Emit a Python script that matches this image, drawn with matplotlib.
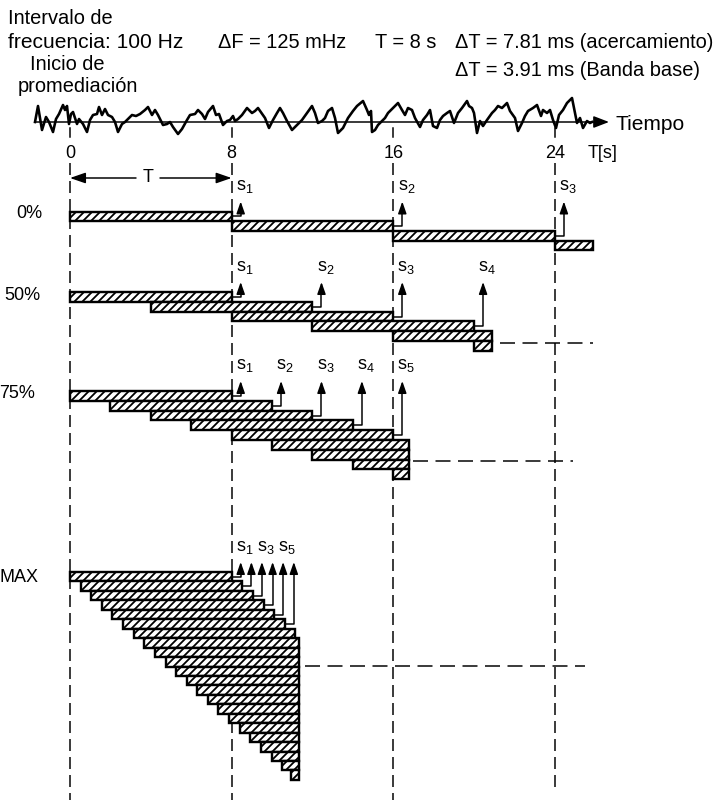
import matplotlib.pyplot as plt
import numpy as np

plt.rcParams['font.family'] = ['Liberation Sans', 'DejaVu Sans']
plt.rcParams['mathtext.fontset'] = 'custom'
plt.rcParams['mathtext.rm'] = 'Liberation Sans'
plt.rcParams['mathtext.it'] = 'Liberation Sans'
plt.rcParams['hatch.linewidth'] = 1.8

# --- data -------------------------------------------------------------
row_labels = ['0%', '50%', '75%', 'MAX']
record_len = 8.0   # T = 8 s
# start time of every record (s) in each overlap row
rec_starts = [
    [0, 8, 16, 24],
    [0, 4, 8, 12, 16, 20],
    [0, 2, 4, 6, 8, 10, 12, 14, 16],
    [0, 0.53, 1.05, 1.58, 2.1, 2.63, 3.15, 3.68, 4.2, 4.73, 5.25,
     5.78, 6.3, 6.83, 7.35, 7.88, 8.4, 8.93, 9.45, 9.98, 10.5, 10.95],
]
t_stop = [25.9, 20.9, 16.8, 11.35]     # where each row is cut off
spec_labels = [
    ['1', '2', '3'],
    ['1', '2', '3', '4'],
    ['1', '2', '3', '4', '5'],
    ['1', '', '3', '', '5', ''],
]
time_ticks = [0, 8, 16, 24]

# input signal trace (x in px along time axis, amplitude in px)
wave_px = [35, 38, 42, 46, 49, 53, 56, 59, 63, 65, 67, 69, 71, 73, 77, 79, 83, 87,
           90, 93, 97, 99, 102, 105, 108, 112, 115, 118, 122, 125, 128, 132, 136,
           140, 145, 148, 152, 155, 158, 163, 167, 170, 173, 178, 182, 187, 190,
           195, 198, 202, 205, 208, 213, 216, 219, 223, 227, 230, 233, 235, 238,
           242, 247, 252, 255, 258, 265, 269, 273, 277, 280, 283, 287, 292, 297,
           302, 307, 312, 315, 318, 322, 325, 328, 332, 335, 338, 343, 348, 353,
           357, 363, 367, 369, 371, 372, 375, 378, 382, 385, 388, 393, 398, 402,
           405, 408, 412, 415, 420, 423, 427, 430, 433, 437, 440, 443, 447, 450,
           454, 458, 462, 467, 469, 472, 474, 477, 480, 483, 487, 492, 495, 498,
           502, 507, 510, 515, 518, 522, 525, 528, 533, 537, 541, 543, 547, 550,
           553, 556, 559, 563, 567, 572, 573, 577, 580, 583, 587, 590, 592]
wave_amp = [0, 16, -8, 5, 0, -10, 3, 8, 17, 12, 16, -2, 8, 10, -2, 3, -2, -10,
            2, 7, 8, 15, 7, 13, 7, 5, 0, -10, -2, 0, 3, 7, 6,
            8, 12, 15, 7, 12, 7, -3, -2, 0, -5, -12, -7, 2, 7,
            8, 12, 8, 3, 10, 16, 7, 8, -3, 1, 2, 6, 1, 3,
            7, 14, 9, 11, 14, 4, -6, 2, 9, 14, 9, 1, -8, -3,
            2, 9, 16, 9, -1, 1, 4, 11, 14, 4, -11, -6, 4, 11,
            16, 21, 12, 7, 11, -10, -8, -3, 1, 4, 9, 14, 19, 12,
            7, 14, 12, 4, -5, 2, 7, 12, -4, -6, 2, 6, 9, 11,
            -1, 9, 14, 21, 16, 14, 9, -11, 1, -4, 2, 9, 12, 16,
            14, 19, 11, 4, -9, -1, 6, 11, 14, 17, 6, 12, 9, 12,
            2, -6, 7, 12, 19, 24, 19, -1, 4, -6, 1, -1, 0]

# --- layout (y in pixels, growing downward) ----------------------------
T0_PX, PX_PER_S = 70, 20.2


def t(px):
    return (np.asarray(px, dtype=float) - T0_PX) / PX_PER_S


row_top = [211.5, 292, 391, 572]
bar_h = [9.7, 9.8, 9.8, 9.45]
row_label_x = [42, 40, 35, 38]
row_label_y = [213, 296, 393, 577]
axis_y = 122

fig = plt.figure(figsize=(718 / 72, 803 / 72), dpi=72)
ax = fig.add_axes([0, 0, 1, 1])
ax.set_xlim(t(0), t(718))
ax.set_ylim(803, 0)
ax.axis('off')

fs = 20
ax.text(t(8), 18, 'Intervalo de', fontsize=fs, va='center')
ax.text(t(8), 42, 'frecuencia: 100 Hz', fontsize=21, va='center')
ax.text(t(30), 64, 'Inicio de', fontsize=fs, va='center')
ax.text(t(18), 87, 'promediación', fontsize=fs, va='center')
ax.text(t(218), 42, 'ΔF = 125 mHz', fontsize=fs, va='center')
ax.text(t(375), 42, 'T = 8 s', fontsize=fs, va='center')
ax.text(t(455), 42, 'ΔT = 7.81 ms (acercamiento)', fontsize=fs, va='center')
ax.text(t(455), 70, 'ΔT = 3.91 ms (Banda base)', fontsize=fs, va='center')

# signal + time axis
ax.plot(t(wave_px), axis_y - np.array(wave_amp), color='black', lw=2.6)
ax.annotate('', xy=(t(609), axis_y), xytext=(t(35), axis_y),
            arrowprops=dict(arrowstyle='-|>,head_length=1.3,head_width=0.5',
                            color='black', lw=1.5, shrinkA=0, shrinkB=0))
ax.text(t(615), 124, 'Tiempo', fontsize=21, va='center')
for tk in time_ticks:
    ax.plot([tk, tk], [128, 137], color='black', lw=1.5)
    ax.text(tk, 153, str(tk), fontsize=18, ha='center', va='center')
ax.text(t(588), 153, 'T[s]', fontsize=18, va='center')

# T span arrow
for end, start in [(0, t(136)), (8, t(160))]:
    ax.annotate('', xy=(end, 178), xytext=(start, 178),
                arrowprops=dict(arrowstyle='-|>,head_length=1.3,head_width=0.45',
                                color='black', lw=1.5, shrinkA=0, shrinkB=0))
ax.text(t(148), 177, 'T', fontsize=18, ha='center', va='center')

# vertical dashed guides
for tk, y_end in zip(time_ticks, [800, 800, 800, 790]):
    ax.plot([tk, tk], [163, y_end], color='black', lw=1.5,
            ls=(0, (8, 4)), zorder=1)

# horizontal dashed "now" lines
for (xa, xb), yy in zip([(500, 593), (413, 573), (305, 585)], [343, 461, 666]):
    ax.plot(t([xa, xb]), [yy, yy], color='black', lw=1.5, ls=(0, (10, 5)), zorder=1)

# records per overlap row
for i, lab in enumerate(row_labels):
    starts = np.array(rec_starts[i], dtype=float)
    ends = np.minimum(starts + record_len, t_stop[i])
    ys = row_top[i] + (np.arange(len(starts)) + 0.5) * bar_h[i]
    ax.barh(ys, ends - starts, left=starts, height=bar_h[i], color='white',
            edgecolor='black', linewidth=2.4, hatch='///', zorder=3)
    ax.text(t(row_label_x[i]), row_label_y[i], lab, fontsize=18,
            ha='right', va='center')
    tip_y = row_top[i] - 10
    for k, s in enumerate(spec_labels[i]):
        xa = ends[k] + 0.45
        ax.plot([ends[k], xa, xa], [ys[k], ys[k], tip_y + 8], color='black',
                lw=1.5, zorder=4)
        ax.annotate('', xy=(xa, tip_y), xytext=(xa, tip_y + 9),
                    arrowprops=dict(arrowstyle='-|>,head_length=1.0,head_width=0.35',
                                    color='black', lw=1.5, shrinkA=0, shrinkB=0),
                    zorder=4)
        if s:
            ax.text(xa + 0.2, row_top[i] - 25, r'$\mathrm{s}_{%s}$' % s,
                    fontsize=18, ha='center', va='center')

fig.savefig('out.png', dpi=72)
